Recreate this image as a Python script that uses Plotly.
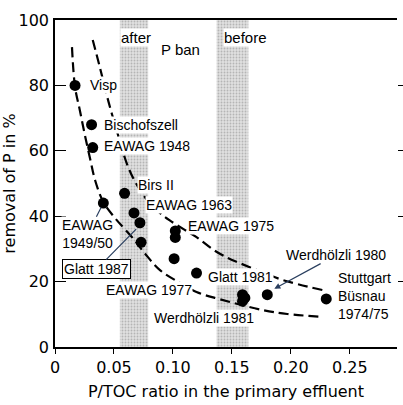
import plotly.graph_objects as go

# measured points
p_toc = [0.017, 0.031, 0.032, 0.041, 0.059, 0.067, 0.072, 0.073, 0.102, 0.102,
         0.101, 0.120, 0.159, 0.159, 0.161, 0.180, 0.230]
removal = [80, 68, 61, 44, 47, 41, 38, 32, 35.5, 33.5,
           27, 22.6, 16.0, 14.0, 15.0, 16.0, 14.7]

# dashed envelope curves
curve_low_x = [0.0144, 0.017, 0.021, 0.025, 0.030, 0.034, 0.041, 0.051, 0.066,
               0.076, 0.089, 0.106, 0.120, 0.140, 0.176, 0.197, 0.227]
curve_low_y = [91.7, 79.5, 72.5, 65.4, 57.2, 51.0, 44.3, 39.4, 33.3,
               28.7, 23.5, 19.6, 16.8, 14.6, 11.3, 10.1, 9.2]
curve_up_x = [0.032, 0.038, 0.045, 0.053, 0.061, 0.068, 0.078, 0.088, 0.097,
              0.110, 0.120, 0.134, 0.146, 0.157, 0.175, 0.193, 0.227]
curve_up_y = [93.9, 85.6, 75.5, 65.4, 56.0, 50.5, 45.0, 41.3, 38.8,
              35.8, 33.6, 29.8, 27.3, 25.6, 23.0, 20.5, 17.4]

# P ban bands (after / before)
band_centers = [0.067, 0.1505]
band_widths = [0.024, 0.027]
band_heights = [100, 100]

x_tickvals = [0, 0.05, 0.10, 0.15, 0.20, 0.25]
x_ticktext = ["0", "0.05", "0.10", "0.15", "0.20", "0.25"]
y_tickvals = [0, 20, 40, 60, 80, 100]
y_ticktext = ["0", "20", "40", "60", "80", "100"]

LBL = "Liberation Sans, Arial, sans-serif"
AX = "DejaVu Sans, sans-serif"

fig = go.Figure()

fig.add_trace(go.Bar(
    x=band_centers, y=band_heights, width=band_widths, base=0,
    marker=dict(color="#dedede", line=dict(width=0),
                pattern=dict(shape=".", fgcolor="#8a8a8a", bgcolor="#e0e0e0",
                             size=3, solidity=0.3)),
    hoverinfo="skip", showlegend=False))

for cx, cy in [(curve_low_x, curve_low_y), (curve_up_x, curve_up_y)]:
    fig.add_trace(go.Scatter(
        x=cx, y=cy, mode="lines", line=dict(color="black", width=2.2,
                                             dash="10px,5px", shape="spline"),
        showlegend=False, hoverinfo="skip"))

fig.add_trace(go.Scatter(
    x=p_toc, y=removal, mode="markers",
    marker=dict(color="black", size=11), showlegend=False))

# invisible trace for right tick axis
fig.add_trace(go.Scatter(x=[0], y=[0], yaxis="y2", mode="markers",
                         marker=dict(opacity=0), showlegend=False, hoverinfo="skip"))

def lab(text, x, y, xanchor="left", size=14, align="left", **kw):
    d = dict(text=text, x=x, y=y, xref="x", yref="y", showarrow=False,
             xanchor=xanchor, yanchor="middle", align=align,
             font=dict(family=LBL, size=size, color="black"),
             bgcolor="white", borderpad=0)
    d.update(kw)
    fig.add_annotation(**d)

lab("Visp", 0.0285, 80)
lab("Bischofszell", 0.041, 68)
lab("EAWAG 1948", 0.041, 61.5)
lab("Birs II", 0.0695, 49.5)
lab("EAWAG 1963", 0.0765, 43.5)
lab("EAWAG 1975", 0.112, 37)
lab("EAWAG 1977", 0.0795, 17.4, xanchor="center")
lab("Glatt 1981", 0.129, 21.4)
lab("Werdhölzli 1981", 0.0835, 8.8)
lab("Stuttgart<br>Büsnau<br>1974/75", 0.239, 15.5)
lab("after", 0.0555, 94.6, size=15)
lab("P ban", 0.106, 91, xanchor="center", size=15, bgcolor="rgba(0,0,0,0)")
lab("before", 0.1425, 94.6, size=15)

# arrows
fig.add_annotation(text="EAWAG<br>1949/50", x=0.041, y=44, ax=0.0275, ay=34.5,
                   xref="x", yref="y", axref="x", ayref="y", showarrow=True,
                   arrowhead=0, arrowwidth=1.2, standoff=5, align="center",
                   font=dict(family=LBL, size=14, color="black"),
                   bgcolor="white", borderpad=0)
fig.add_annotation(text="Glatt 1987", x=0.070, y=36.5, ax=0.0355, ay=23.8,
                   xref="x", yref="y", axref="x", ayref="y", showarrow=True,
                   arrowhead=0, arrowwidth=1.2, standoff=2,
                   font=dict(family=LBL, size=14, color="black"),
                   bgcolor="white", bordercolor="black", borderwidth=1, borderpad=1)
fig.add_annotation(text="Werdhölzli 1980", x=0.186, y=17.8, ax=0.2385, ay=28.1,
                   xref="x", yref="y", axref="x", ayref="y", showarrow=True,
                   arrowhead=2, arrowsize=1, arrowwidth=1.2, standoff=0,
                   font=dict(family=LBL, size=14, color="black"),
                   bgcolor="white", borderpad=0)

fig.update_layout(
    width=403, height=405,
    margin=dict(l=55, r=6, t=20, b=58),
    paper_bgcolor="white", plot_bgcolor="white",
    barmode="overlay", showlegend=False,
    xaxis=dict(range=[0, 0.29], tickvals=x_tickvals, ticktext=x_ticktext,
               showgrid=False, zeroline=False, showline=True, mirror=True,
               linecolor="black", linewidth=1.5, ticks="outside", ticklen=5,
               tickcolor="black", ticklabelstandoff=0, automargin=False,
               tickfont=dict(family=AX, size=16, color="black"),
               title=dict(text="P/TOC ratio in the primary effluent",
                          font=dict(family=AX, size=16, color="black"), standoff=10)),
    yaxis=dict(range=[0, 100], tickvals=y_tickvals, ticktext=y_ticktext,
               showgrid=False, zeroline=False, showline=True,
               linecolor="black", linewidth=1.5, ticks="inside", ticklen=11,
               tickcolor="black", ticklabelstandoff=1, automargin=False,
               tickfont=dict(family=AX, size=16, color="black"),
               title=dict(text="removal of P in %",
                          font=dict(family=AX, size=16, color="black"), standoff=0)),
    yaxis2=dict(range=[0, 100], overlaying="y", side="right", showgrid=False,
                zeroline=False, showline=False, showticklabels=False,
                tickvals=[20, 40, 60, 80], ticks="outside", ticklen=5,
                tickcolor="black", automargin=False),
)

fig.write_html("out.html")
